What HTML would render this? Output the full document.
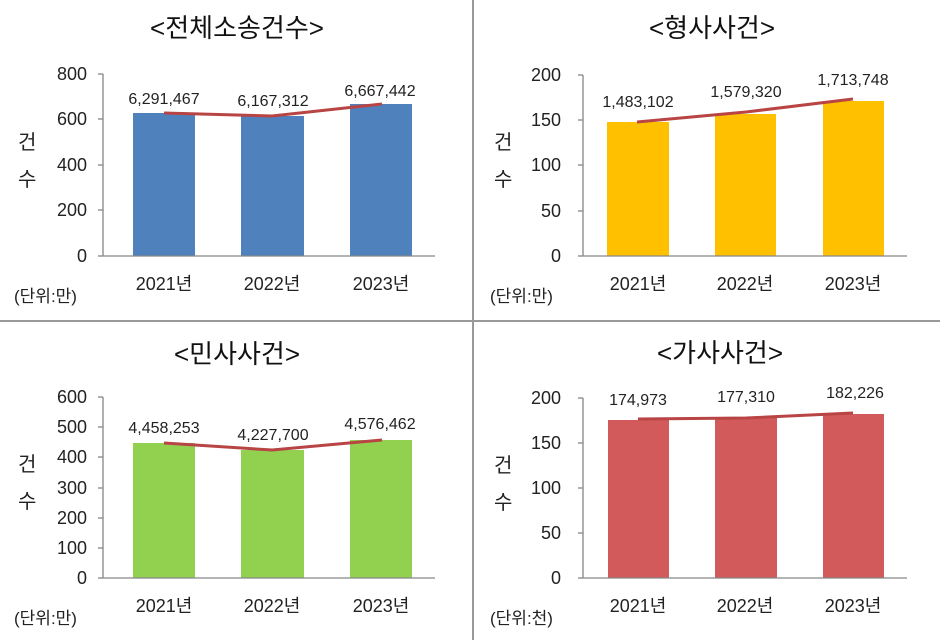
<!DOCTYPE html>
<html><head><meta charset="utf-8"><style>
html,body{margin:0;padding:0;background:#fff;}
svg{display:block;font-family:"Liberation Sans","Noto Sans CJK KR",sans-serif;}
.t{font-size:18px;fill:#222;text-anchor:end;}
.d{font-size:16px;fill:#222;text-anchor:middle;}
.x{font-size:18px;fill:#222;text-anchor:middle;}
.ti{font-size:26px;fill:#111;text-anchor:middle;}
.s{font-size:17px;fill:#222;}
.k{font-size:20px;fill:#222;}
</style></head><body>
<svg width="940" height="640" viewBox="0 0 940 640">
<rect width="940" height="640" fill="#fff"/>
<line x1="473" y1="0" x2="473" y2="640" stroke="#999" stroke-width="2"/>
<line x1="0" y1="321" x2="940" y2="321" stroke="#999" stroke-width="2"/>

<!-- TL -->
<text class="ti" x="237" y="37">&lt;전체소송건수&gt;</text>
<rect x="133" y="113" width="62" height="143" fill="#4f81bd"/>
<rect x="241" y="116" width="63" height="140" fill="#4f81bd"/>
<rect x="350" y="104" width="62" height="152" fill="#4f81bd"/>
<g stroke="#868686" stroke-width="1.3">
<line x1="103" y1="74" x2="103" y2="256"/><line x1="103" y1="256" x2="435" y2="256"/>
<line x1="98" y1="74" x2="103" y2="74"/><line x1="98" y1="119" x2="103" y2="119"/><line x1="98" y1="165" x2="103" y2="165"/><line x1="98" y1="210" x2="103" y2="210"/><line x1="98" y1="256" x2="103" y2="256"/>
</g>
<polyline points="164,113 272,116 382,104" fill="none" stroke="#b94444" stroke-width="3"/>
<g class="t"><text x="87" y="80">800</text><text x="87" y="125">600</text><text x="87" y="171">400</text><text x="87" y="216">200</text><text x="87" y="262">0</text></g>
<text class="d" x="164" y="104">6,291,467</text><text class="d" x="273" y="106">6,167,312</text><text class="d" x="380" y="96">6,667,442</text>
<text class="x" x="164" y="290">2021년</text><text class="x" x="272" y="290">2022년</text><text class="x" x="381" y="290">2023년</text>
<text class="k" x="18" y="149">건</text><text class="k" x="18" y="186">수</text>
<text class="s" x="14" y="302">(단위:만)</text>

<!-- TR -->
<text class="ti" x="712" y="37">&lt;형사사건&gt;</text>
<rect x="607" y="122" width="62" height="134" fill="#ffc000"/>
<rect x="715" y="114" width="61" height="142" fill="#ffc000"/>
<rect x="823" y="101" width="61" height="155" fill="#ffc000"/>
<g stroke="#868686" stroke-width="1.3">
<line x1="583" y1="75" x2="583" y2="256"/><line x1="583" y1="256" x2="907" y2="256"/>
<line x1="578" y1="75" x2="583" y2="75"/><line x1="578" y1="120" x2="583" y2="120"/><line x1="578" y1="165" x2="583" y2="165"/><line x1="578" y1="211" x2="583" y2="211"/><line x1="578" y1="256" x2="583" y2="256"/>
</g>
<polyline points="637,122 746,112 853,99" fill="none" stroke="#b94444" stroke-width="3"/>
<g class="t"><text x="561" y="81">200</text><text x="561" y="126">150</text><text x="561" y="171">100</text><text x="561" y="217">50</text><text x="561" y="262">0</text></g>
<text class="d" x="638" y="107">1,483,102</text><text class="d" x="746" y="97">1,579,320</text><text class="d" x="853" y="85">1,713,748</text>
<text class="x" x="638" y="290">2021년</text><text class="x" x="745" y="290">2022년</text><text class="x" x="853" y="290">2023년</text>
<text class="k" x="494" y="149">건</text><text class="k" x="494" y="186">수</text>
<text class="s" x="490" y="302">(단위:만)</text>

<!-- BL -->
<text class="ti" x="237" y="363">&lt;민사사건&gt;</text>
<rect x="133" y="443" width="62" height="135" fill="#92d050"/>
<rect x="241" y="450" width="63" height="128" fill="#92d050"/>
<rect x="350" y="440" width="62" height="138" fill="#92d050"/>
<g stroke="#868686" stroke-width="1.3">
<line x1="103" y1="397" x2="103" y2="578"/><line x1="103" y1="578" x2="435" y2="578"/>
<line x1="98" y1="397" x2="103" y2="397"/><line x1="98" y1="427" x2="103" y2="427"/><line x1="98" y1="457" x2="103" y2="457"/><line x1="98" y1="488" x2="103" y2="488"/><line x1="98" y1="518" x2="103" y2="518"/><line x1="98" y1="548" x2="103" y2="548"/><line x1="98" y1="578" x2="103" y2="578"/>
</g>
<polyline points="164,443 272,450 382,440" fill="none" stroke="#b94444" stroke-width="3"/>
<g class="t"><text x="87" y="403">600</text><text x="87" y="433">500</text><text x="87" y="463">400</text><text x="87" y="494">300</text><text x="87" y="524">200</text><text x="87" y="554">100</text><text x="87" y="584">0</text></g>
<text class="d" x="164" y="433">4,458,253</text><text class="d" x="273" y="440">4,227,700</text><text class="d" x="380" y="429">4,576,462</text>
<text class="x" x="164" y="612">2021년</text><text class="x" x="272" y="612">2022년</text><text class="x" x="381" y="612">2023년</text>
<text class="k" x="18" y="471">건</text><text class="k" x="18" y="508">수</text>
<text class="s" x="14" y="624">(단위:만)</text>

<!-- BR -->
<text class="ti" x="720" y="362">&lt;가사사건&gt;</text>
<rect x="608" y="420" width="61" height="158" fill="#d25a5a"/>
<rect x="715" y="418" width="62" height="160" fill="#d25a5a"/>
<rect x="823" y="414" width="61" height="164" fill="#d25a5a"/>
<g stroke="#868686" stroke-width="1.3">
<line x1="583" y1="398" x2="583" y2="578"/><line x1="583" y1="578" x2="907" y2="578"/>
<line x1="578" y1="398" x2="583" y2="398"/><line x1="578" y1="443" x2="583" y2="443"/><line x1="578" y1="488" x2="583" y2="488"/><line x1="578" y1="533" x2="583" y2="533"/><line x1="578" y1="578" x2="583" y2="578"/>
</g>
<polyline points="638,419 746,418 853,413" fill="none" stroke="#b94444" stroke-width="3"/>
<g class="t"><text x="561" y="404">200</text><text x="561" y="449">150</text><text x="561" y="494">100</text><text x="561" y="539">50</text><text x="561" y="584">0</text></g>
<text class="d" x="638" y="405">174,973</text><text class="d" x="746" y="402">177,310</text><text class="d" x="855" y="398">182,226</text>
<text class="x" x="638" y="612">2021년</text><text class="x" x="745" y="612">2022년</text><text class="x" x="853" y="612">2023년</text>
<text class="k" x="494" y="472">건</text><text class="k" x="494" y="509">수</text>
<text class="s" x="490" y="624">(단위:천)</text>
</svg>
</body></html>
